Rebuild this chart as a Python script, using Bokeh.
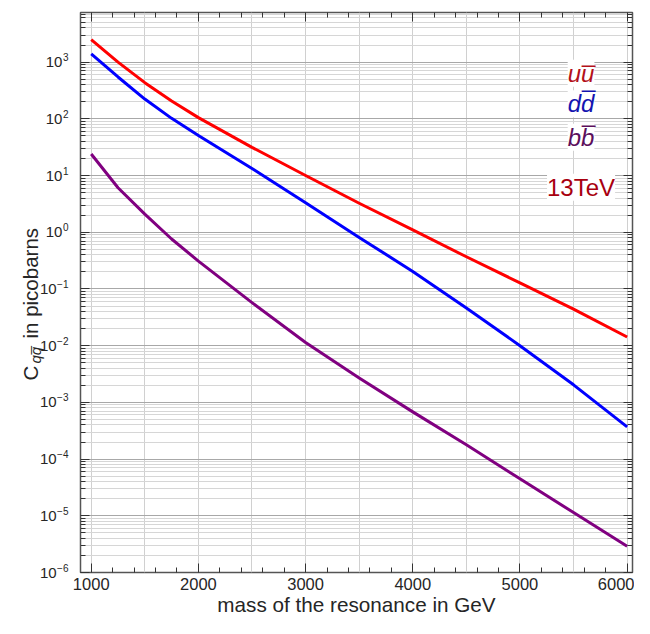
from bokeh.plotting import figure
from bokeh.layouts import row
from bokeh.models import (LinearAxis, LogAxis, FixedTicker, SingleIntervalTicker,
                          CustomJSTickFormatter, Label, Range1d)
from bokeh.embed import file_html
from bokeh.resources import INLINE
import math

# ---- data ----
mass = [1000, 1250, 1500, 1750, 2000, 2500, 3000, 3500, 4000, 4500, 5000, 5500, 6000]
uubar = [2500, 1000, 434, 206, 105, 31.4, 10.0, 3.25, 1.1, 0.37, 0.128, 0.044, 0.0142]
ddbar = [1400, 547, 223, 102, 51, 13.3, 3.3, 0.81, 0.204, 0.046, 0.010, 0.00204, 0.00037]
bbbar = [24, 6.1, 2.09, 0.76, 0.31, 0.0575, 0.0114, 0.0027, 6.8e-4, 1.79e-4, 4.5e-5, 1.14e-5, 2.9e-6]

y_decades = list(range(-6, 4))
series_names = ["u", "d", "b"]
energy_label = "13TeV"

FONT = "Liberation Sans"
TXT = "#262626"
X0, X1 = 900, 6050
Y0, Y1 = 1e-6, 7.5e3

H = 634 - 16
LW = 72                 # width of the left strip holding the y labels
MW = 634 - LW
BL, BR, BT, BB = 8, 2, 12, 46
FH = H - BT - BB
LOG0, LOG1 = math.log10(Y0), math.log10(Y1)
DPP = (LOG1 - LOG0) / FH          # decades per pixel

# ---------------- main plot ----------------
p = figure(width=MW, height=H, x_range=(X0, X1), y_range=(Y0, Y1), y_axis_type="log",
           output_backend="svg", toolbar_location=None,
           min_border_left=BL, min_border_right=BR, min_border_top=BT, min_border_bottom=BB)
p.frame_align = False
p.background_fill_color = "white"
p.border_fill_color = "white"
p.outline_line_color = "#555555"
p.outline_line_width = 1.5

y_major = [10.0 ** k for k in y_decades]
y_minor = [m * 10.0 ** k for k in y_decades for m in range(2, 10)]
yticker = FixedTicker(ticks=y_major, minor_ticks=y_minor)
xticker = SingleIntervalTicker(interval=1000, num_minor_ticks=5)
blank_fmt = CustomJSTickFormatter(code="return '';")

def style_axis(ax):
    ax.axis_line_color = None
    ax.major_tick_line_color = "#333333"
    ax.minor_tick_line_color = "#333333"
    ax.major_tick_in = 9
    ax.major_tick_out = 0
    ax.minor_tick_in = 5
    ax.minor_tick_out = 0
    ax.major_label_text_font = FONT
    ax.major_label_text_font_size = "16.5px"
    ax.major_label_text_color = TXT

ly = p.yaxis[0]
ly.ticker = yticker
ly.formatter = blank_fmt
style_axis(ly)
ly.major_label_standoff = 0

bx = p.xaxis[0]
bx.ticker = xticker
style_axis(bx)
bx.major_label_standoff = 5
bx.axis_label = "mass of the resonance in GeV"
bx.axis_label_text_font = FONT
bx.axis_label_text_font_size = "20.7px"
bx.axis_label_text_font_style = "normal"
bx.axis_label_text_color = TXT
bx.axis_label_standoff = 0

tx = LinearAxis(ticker=xticker, formatter=blank_fmt)
style_axis(tx)
tx.major_label_standoff = 0
p.add_layout(tx, "above")
ry = LogAxis(ticker=yticker, formatter=blank_fmt)
style_axis(ry)
ry.major_label_standoff = 0
p.add_layout(ry, "right")

p.xgrid.ticker = SingleIntervalTicker(interval=500)
p.xgrid.grid_line_color = "#d0d0d0"
p.ygrid.ticker = yticker
p.ygrid.grid_line_color = "#a8a8a8"
p.ygrid.minor_grid_line_color = "#d6d6d6"

for ys, col in [(uubar, "#ff0000"), (ddbar, "#0000ff"), (bbbar, "#800080")]:
    p.line(mass, ys, line_color=col, line_width=3, line_join="round")

def py_to_y(cy):
    """canvas pixel row -> data value of the main plot (for text placement)"""
    return 10 ** (LOG1 - (cy - BT) * DPP)

# legend-like labels
lx = 5570
legend = [(series_names[0] * 2, 72.7, "#b3101a", 20.0),
          (series_names[1] * 2, 103.3, "#1414b0", 25.5),
          (series_names[2] * 2, 136.7, "#5c0f5c", 24.0)]
for txt, cy, col, bar_off in legend:
    yy = py_to_y(cy)
    p.add_layout(Label(x=lx, y=yy, text=txt, text_align="center",
                       text_baseline="alphabetic", text_font=FONT, text_font_size="24px",
                       text_font_style="italic", text_color=col,
                       background_fill_color="white"))
    p.add_layout(Label(x=lx, y=yy, x_offset=7.5, y_offset=bar_off, text="_",
                       text_align="center", text_baseline="alphabetic", text_font=FONT,
                       text_font_size="24px", text_color=col))
p.add_layout(Label(x=lx, y=py_to_y(186.7), text=energy_label, text_align="center",
                   text_baseline="alphabetic", text_font=FONT, text_font_size="24px",
                   text_color="#a8000f", background_fill_color="white"))

# ---------------- left strip: y tick labels and y title ----------------
yb = 10 ** (LOG0 - BB * DPP)
yt = 10 ** (LOG1 + BT * DPP)
q = figure(width=LW, height=H, x_range=Range1d(0, LW), y_range=Range1d(yb, yt),
           y_axis_type="log", output_backend="svg", toolbar_location=None,
           x_axis_location=None, y_axis_location=None,
           min_border_left=0, min_border_right=0, min_border_top=0, min_border_bottom=0)
q.frame_align = False
q.grid.visible = False
q.outline_line_color = None
q.background_fill_color = "white"
q.border_fill_color = "white"

R = 68
for k in y_decades:
    exp_txt = str(k).replace("-", "\u2212")
    ew = sum(5.84 if c == "\u2212" else 5.56 for c in exp_txt)
    q.add_layout(Label(x=R - ew - 0.5, y=10.0 ** k, text="10", text_align="right",
                       text_baseline="middle", text_font=FONT, text_font_size="15px",
                       text_color=TXT))
    q.add_layout(Label(x=R, y=10.0 ** k, y_offset=5, text=exp_txt, text_align="right",
                       text_baseline="middle", text_font=FONT, text_font_size="10px",
                       text_color=TXT))

def qy(cy):
    return 10 ** (LOG1 + BT * DPP - cy * DPP)

ang = math.pi / 2
q.add_layout(Label(x=30, y=qy(380), text="C", angle=ang, text_align="left",
                   text_baseline="alphabetic", text_font=FONT, text_font_size="20.5px",
                   text_color=TXT))
q.add_layout(Label(x=34.5, y=qy(363), text="qq\u0305", angle=ang, text_align="left",
                   text_baseline="alphabetic", text_font=FONT, text_font_size="15px",
                   text_font_style="italic", text_color=TXT))
q.add_layout(Label(x=30, y=qy(338), text="in picobarns", angle=ang, text_align="left",
                   text_baseline="alphabetic", text_font=FONT, text_font_size="20.5px",
                   text_color=TXT))

layout = row(q, p)
open("out.html", "w").write(file_html(layout, INLINE))
